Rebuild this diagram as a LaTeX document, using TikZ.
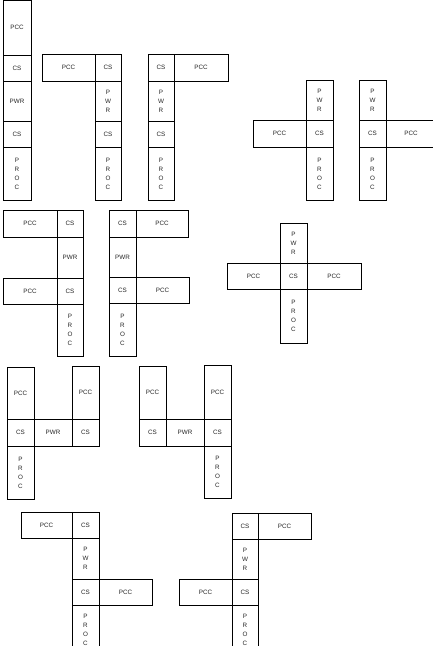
\documentclass[tikz,border=0pt]{standalone}
\usepackage{fontspec}
\setmainfont{Liberation Sans}
\newcommand\cellbox[6]{\node[cell, minimum width={(#4)-(#2)}, minimum height={(#5)-(#3)}] (#1) at ({((#2)+(#4))/2},{((#3)+(#5))/2}) {#6};}
\tikzset{
  cell/.style={draw=black, line width=0.8pt, inner sep=0pt, outer sep=0pt, align=center,
    font=\fontsize{6.3}{9}\selectfont, text=black!85},
}
\newcommand\vPWR{P\\W\\R}
\newcommand\vPROC{P\\R\\O\\C}
\begin{document}
\begin{tikzpicture}[x=1pt,y=-1pt]
\useasboundingbox (0,0) rectangle (433,646);
\clip (0,0) rectangle (433,646);
\fill[white] (0,0) rectangle (433,646);
% D1
\cellbox{a1}{3}{0}{31}{55}{PCC}
\cellbox{a2}{3}{55}{31}{81}{CS}
\cellbox{a3}{3}{81}{31}{121}{PWR}
\cellbox{a4}{3}{121}{31}{147}{CS}
\cellbox{a5}{3}{147}{31}{200}{\vPROC}
% D2
\cellbox{b1}{42}{54}{95}{81}{PCC}
\cellbox{b2}{95}{54}{121}{81}{CS}
\cellbox{b3}{95}{81}{121}{121}{\vPWR}
\cellbox{b4}{95}{121}{121}{147}{CS}
\cellbox{b5}{95}{147}{121}{200}{\vPROC}
% D3
\cellbox{c1}{148}{54}{174}{81}{CS}
\cellbox{c2}{174}{54}{228}{81}{PCC}
\cellbox{c3}{148}{81}{174}{121}{\vPWR}
\cellbox{c4}{148}{121}{174}{147}{CS}
\cellbox{c5}{148}{147}{174}{200}{\vPROC}
% D4
\cellbox{d1}{306}{80}{333}{120}{\vPWR}
\cellbox{d2}{253}{120}{306}{147}{PCC}
\cellbox{d3}{306}{120}{333}{147}{CS}
\cellbox{d4}{306}{147}{333}{200}{\vPROC}
% D5
\cellbox{e1}{359}{80}{386}{120}{\vPWR}
\cellbox{e2}{359}{120}{386}{147}{CS}
\cellbox{e3}{386}{120}{436}{147}{PCC}
\cellbox{e4}{359}{147}{386}{200}{\vPROC}
% D6
\cellbox{f1}{3}{210}{57}{237}{PCC}
\cellbox{f2}{57}{210}{83}{237}{CS}
\cellbox{f3}{57}{237}{83}{278}{PWR}
\cellbox{f4}{3}{278}{57}{304}{PCC}
\cellbox{f5}{57}{278}{83}{304}{CS}
\cellbox{f6}{57}{304}{83}{356}{\vPROC}
% D7
\cellbox{g1}{109}{210}{136}{237}{CS}
\cellbox{g2}{136}{210}{188}{237}{PCC}
\cellbox{g3}{109}{237}{136}{277}{PWR}
\cellbox{g4}{109}{277}{136}{303}{CS}
\cellbox{g5}{136}{277}{189}{303}{PCC}
\cellbox{g6}{109}{303}{136}{356}{\vPROC}
% D8
\cellbox{h1}{280}{223}{307}{263}{\vPWR}
\cellbox{h2}{227}{263}{280}{289}{PCC}
\cellbox{h3}{280}{263}{307}{289}{CS}
\cellbox{h4}{307}{263}{361}{289}{PCC}
\cellbox{h5}{280}{289}{307}{343}{\vPROC}
% D9
\cellbox{i1}{7}{367}{34}{419}{PCC}
\cellbox{i2}{7}{419}{34}{446}{CS}
\cellbox{i3}{34}{419}{72}{446}{PWR}
\cellbox{i4}{72}{366}{99}{419}{PCC}
\cellbox{i5}{72}{419}{99}{446}{CS}
\cellbox{i6}{7}{446}{34}{499}{\vPROC}
% D10
\cellbox{j1}{139}{366}{166}{419}{PCC}
\cellbox{j2}{139}{419}{166}{446}{CS}
\cellbox{j3}{166}{419}{204}{446}{PWR}
\cellbox{j4}{204}{365}{231}{419}{PCC}
\cellbox{j5}{204}{419}{231}{446}{CS}
\cellbox{j6}{204}{446}{231}{498}{\vPROC}
% D11
\cellbox{k1}{21}{512}{72}{538}{PCC}
\cellbox{k2}{72}{512}{99}{538}{CS}
\cellbox{k3}{72}{538}{99}{579}{\vPWR}
\cellbox{k4}{72}{579}{99}{605}{CS}
\cellbox{k5}{99}{579}{152}{605}{PCC}
\cellbox{k6}{72}{605}{99}{655}{\vPROC}
% D12
\cellbox{l1}{232}{513}{258}{539}{CS}
\cellbox{l2}{258}{513}{311}{539}{PCC}
\cellbox{l3}{232}{539}{258}{579}{\vPWR}
\cellbox{l4}{179}{579}{232}{605}{PCC}
\cellbox{l5}{232}{579}{258}{605}{CS}
\cellbox{l6}{232}{605}{258}{655}{\vPROC}
\end{tikzpicture}
\end{document}
